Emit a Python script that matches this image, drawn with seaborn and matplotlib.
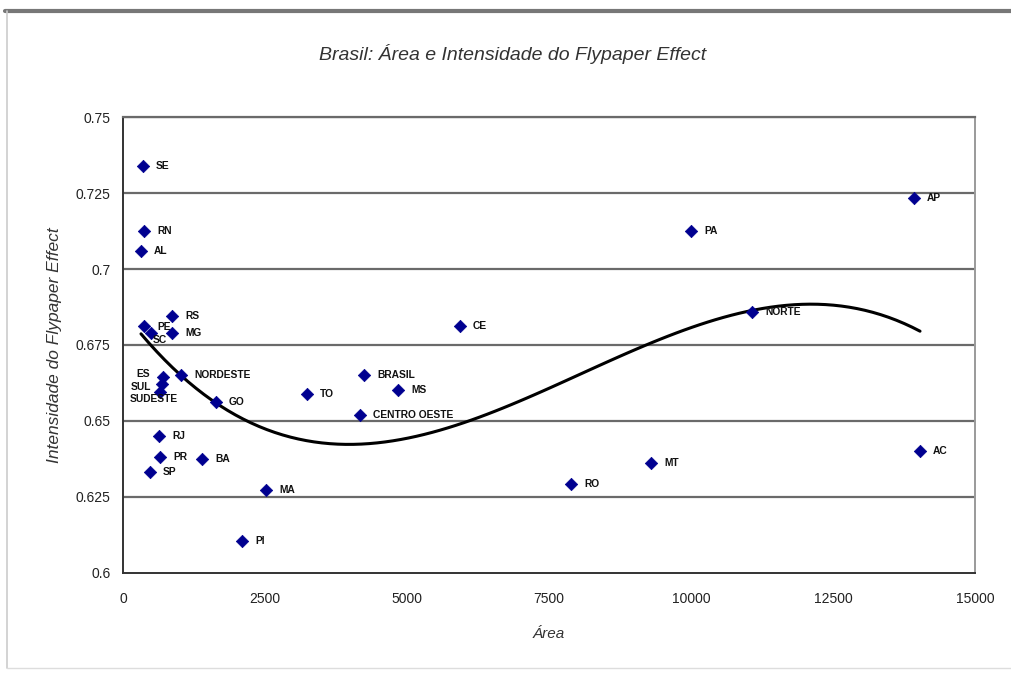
import matplotlib
matplotlib.use("Agg")
import matplotlib.pyplot as plt
import seaborn as sns
import numpy as np
import pandas as pd
from matplotlib.lines import Line2D

labels = ["SE", "RN", "AL", "RS", "PE", "SC", "MG", "ES", "NORDESTE", "SUL", "SUDESTE",
          "GO", "RJ", "PR", "BA", "SP", "MA", "PI", "TO", "BRASIL", "MS", "CENTRO OESTE",
          "CE", "PA", "AP", "NORTE", "MT", "RO", "AC"]
area = [352, 370, 317, 863, 370, 493, 863, 704, 1021, 687, 651,
        1637, 634, 651, 1391, 475, 2518, 2095, 3240, 4243, 4842, 4173,
        5933, 10000, 13927, 11074, 9296, 7888, 14032]
intensidade = [0.7339, 0.7125, 0.7059, 0.6845, 0.6813, 0.6790, 0.6790, 0.6645, 0.6651, 0.6622, 0.6596,
               0.6563, 0.6451, 0.6382, 0.6375, 0.6332, 0.6273, 0.6105, 0.6589, 0.6651, 0.6602, 0.6520,
               0.6813, 0.7125, 0.7234, 0.6859, 0.6362, 0.6293, 0.6401]
x_ticks = [0, 2500, 5000, 7500, 10000, 12500, 15000]
y_ticks = [0.6, 0.625, 0.65, 0.675, 0.7, 0.725, 0.75]
y_tick_labels = ["0.6", "0.625", "0.65", "0.675", "0.7", "0.725", "0.75"]

df = pd.DataFrame({"Area": area, "Int": intensidade, "lab": labels})

sns.set_style("white")
plt.rcParams["font.family"] = ["Liberation Sans", "DejaVu Sans"]

fig = plt.figure(figsize=(10.11, 6.73), dpi=100)
ax = fig.add_axes([123/1011, 1-573/673, (975-123)/1011, (573-117)/673])

# grid lines
for yv in y_ticks[1:]:
    ax.axhline(yv, color="#6a6a6a", lw=1.6, zorder=1)

sns.regplot(data=df, x="Area", y="Int", order=3, scatter=False, ci=None, ax=ax,
            line_kws=dict(color="black", lw=2.2, zorder=3))
sns.scatterplot(data=df, x="Area", y="Int", marker="D", s=40, color="#000090",
                edgecolor="#000090", linewidth=0.5, ax=ax, zorder=4)

offsets = {"ES": (-13, 3, "right"), "SUL": (-11, -3, "right"), "SUDESTE": (-6, -7, "center"),
           "SC": (2, -7, "left"), "PE": (13, -1, "left")}
for lab, xv, yv in zip(labels, area, intensidade):
    dx, dy, ha = offsets.get(lab, (13, 0, "left"))
    ax.annotate(lab, (xv, yv), xytext=(dx, dy), textcoords="offset pixels",
                ha=ha, va="center", fontsize=7.4, fontweight="bold", color="#111111", zorder=5)

ax.set_xlim(0, 15000)
ax.set_ylim(0.6, 0.75)
ax.set_xticks(x_ticks)
ax.set_xticklabels([str(v) for v in x_ticks])
ax.set_yticks(y_ticks)
ax.set_yticklabels(y_tick_labels)
ax.tick_params(axis="both", labelsize=10, colors="#222222")
ax.tick_params(axis="y", direction="out", length=5, width=1, pad=4)
ax.tick_params(axis="x", direction="in", length=4, width=1, pad=14)
for s in ["left", "bottom"]:
    ax.spines[s].set_color("#333333")
    ax.spines[s].set_linewidth(1.4)
ax.spines["right"].set_color("#9a9a9a")
ax.spines["right"].set_linewidth(1.4)
ax.spines["top"].set_color("#6a6a6a")
ax.spines["top"].set_linewidth(1.6)

ax.set_xlabel("Área", fontsize=11, style="italic", labelpad=15, color="#333333")
ax.set_ylabel("Intensidade do Flypaper Effect", fontsize=12.5, style="italic", labelpad=10, color="#333333")
fig.text(513/1011, 1-54/673, "Brasil: Área e Intensidade do Flypaper Effect", ha="center", va="center",
         fontsize=14, style="italic", color="#333333")

# outer chart frame
fig.add_artist(Line2D([5/1011, 1], [1-11/673, 1-11/673], color="#777777", lw=3, transform=fig.transFigure))
fig.add_artist(Line2D([7/1011, 7/1011], [1-668/673, 1-11/673], color="#cccccc", lw=1.2, transform=fig.transFigure))
fig.add_artist(Line2D([7/1011, 1], [1-668/673, 1-668/673], color="#dddddd", lw=1.0, transform=fig.transFigure))

fig.savefig("out.png", dpi=100, facecolor="white")
